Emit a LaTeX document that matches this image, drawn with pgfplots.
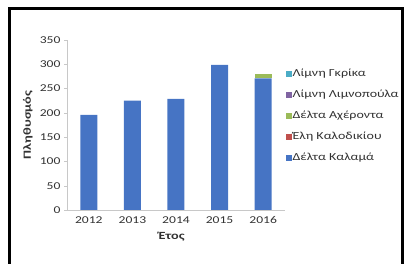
\documentclass[border=0pt]{standalone}
\usepackage{pgfplots}
\pgfplotsset{compat=1.18}
\usepackage{fontspec}
\setmainfont{Carlito}[FakeStretch=1.3]
\definecolor{cBlue}{RGB}{70,116,196}
\definecolor{cRed}{RGB}{192,80,77}
\definecolor{cGreen}{RGB}{155,187,89}
\definecolor{cPurple}{RGB}{128,100,162}
\definecolor{cCyan}{RGB}{75,172,198}
\definecolor{axgray}{RGB}{200,200,200}
\definecolor{txt}{RGB}{50,50,50}
\begin{document}
\begin{tikzpicture}
\useasboundingbox (0,0) rectangle (404bp,264bp);
\begin{axis}[
  at={(67bp,54bp)}, anchor=south west,
  scale only axis, width=218bp, height=170bp,
  ybar stacked, bar width=17bp,
  xmin=-0.5, xmax=4.5, ymin=0, ymax=350,
  xtick={0,1,2,3,4}, xticklabels={2012,2013,2014,2015,2016},
  ytick={0,50,...,350},
  major x tick style={draw=none},
  extra x ticks={-0.5,0.5,1.5,2.5,3.5,4.5}, extra x tick labels={},
  extra x tick style={major tick length=4bp, tick style={draw=axgray}},
  tick align=outside, major tick length=3bp,
  ytick style={draw=axgray},
  axis x line*=bottom, axis y line*=left,
  axis line style={draw=axgray, -},
  tick label style={font=\fontsize{10.5}{12}\selectfont, text=txt},
  /pgf/number format/assume math mode=true,
  xlabel={\textbf{Έτος}}, ylabel={\textbf{Πληθυσμός}},
  label style={font=\fontsize{11}{13}\selectfont, text=txt},
  xlabel style={at={(axis description cs:0.48,0)}, anchor=north, yshift=-19bp},
  ylabel style={at={(axis description cs:-0.18,0.5)}, anchor=center},
  reverse legend,
  legend style={at={(axis description cs:0.99,0.845)}, anchor=north west, draw=none, fill=none,
    font=\fontsize{10.8}{13}\selectfont, text=txt, row sep=10bp,
    nodes={inner sep=1bp, text height=7bp, text depth=2bp}},
  legend cell align=left,
  legend image code/.code={\fill[#1] (0bp,-2.5bp) rectangle (5.5bp,3bp);},
]
\addplot[fill=cBlue, draw=none] coordinates {(0,196) (1,225) (2,229) (3,299) (4,271)};
\addlegendentry{Δέλτα Καλαμά}
\addplot[fill=cRed, draw=none] coordinates {(0,0) (1,0) (2,0) (3,0) (4,0)};
\addlegendentry{Έλη Καλοδικίου}
\addplot[fill=cGreen, draw=none] coordinates {(0,0) (1,0) (2,0) (3,0) (4,10)};
\addlegendentry{Δέλτα Αχέροντα}
\addplot[fill=cPurple, draw=none] coordinates {(0,0) (1,0) (2,0) (3,0) (4,0)};
\addlegendentry{Λίμνη Λιμνοπούλα}
\addplot[fill=cCyan, draw=none] coordinates {(0,0) (1,0) (2,0) (3,0) (4,0)};
\addlegendentry{Λίμνη Γκρίκα}
\end{axis}
\draw[line width=3bp, black] (9bp,-20bp) -- (9bp,255bp) -- (402bp,255bp) -- (402bp,-20bp);
\end{tikzpicture}
\end{document}
